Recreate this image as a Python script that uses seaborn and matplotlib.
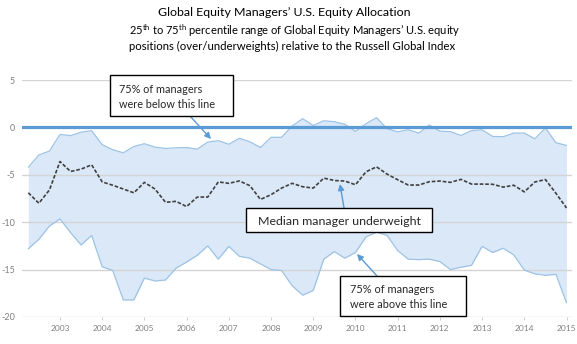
import numpy as np
import pandas as pd
import matplotlib
matplotlib.use("Agg")
import matplotlib.pyplot as plt
import seaborn as sns
from matplotlib import font_manager as fm
from matplotlib.patches import Rectangle, FancyArrowPatch

# ---------------- data (quarterly, 2002 Q2 .. 2015 Q1) ----------------
quarters = np.arange(2002.25, 2015.001, 0.25)
upper = [-4.2, -2.9, -2.5, -0.74, -0.87, -0.5, -0.35, -1.82, -2.36, -2.68,
         -2.02, -1.72, -2.08, -2.22, -2.15, -2.12, -2.3, -1.55, -1.4, -1.78,
         -1.15, -1.52, -2.12, -1.05, -1.04, 0.15, 0.92, 0.2, 0.7, 0.6,
         0.32, -0.42, 0.39, 1.02, -0.14, -0.46, -0.25, -0.6, 0.25, -0.39,
         -0.45, -0.85, -0.34, -0.25, -0.95, -0.98, -0.6, -0.6, -1.2, -0.05,
         -1.62, -1.9]
median = [-6.9, -8.0, -6.6, -3.6, -4.65, -4.4, -3.95, -5.75, -6.1, -6.5,
          -6.9, -5.8, -6.5, -7.9, -7.8, -8.35, -7.35, -7.35, -5.75, -5.9,
          -5.65, -6.15, -7.6, -7.1, -6.4, -5.9, -6.26, -6.4, -5.35, -5.6,
          -5.66, -6.05, -4.68, -4.16, -4.93, -5.52, -6.08, -6.08, -5.73, -5.66,
          -5.8, -5.48, -5.98, -5.98, -6.0, -6.3, -6.1, -6.8, -5.76, -5.5,
          -6.95, -8.5]
lower = [-12.8, -11.8, -10.4, -9.65, -11.1, -12.4, -11.4, -14.7, -15.1, -18.2,
         -18.2, -15.9, -16.2, -16.1, -14.85, -14.2, -13.5, -12.5, -13.9, -12.55,
         -13.6, -13.8, -14.4, -15.0, -15.1, -16.7, -17.7, -17.2, -13.9, -13.1,
         -13.8, -13.2, -11.55, -11.05, -11.4, -13.0, -13.9, -13.95, -13.9, -14.15,
         -15.0, -14.75, -14.55, -12.55, -13.2, -12.75, -13.45, -15.05, -15.45, -15.6,
         -15.5, -18.5]
years = list(range(2003, 2016))
year_labels = [str(y) for y in years]
y_ticks = [5, 0, -5, -10, -15, -20]
y_labels = ["5", "0", "-5", "-10", "-15", "-20"]

title = "Global Equity Managers\u2019 U.S. Equity Allocation"
sub1 = "25$^{\\mathrm{th}}$ to 75$^{\\mathrm{th}}$ percentile range of Global Equity Managers\u2019 U.S. equity"
sub2 = "positions (over/underweights) relative to the Russell Global Index"
note_top = "75% of managers\nwere below this line"
note_mid = "Median manager underweight"
note_bot = "75% of managers\nwere above this line"

# ---------------- style ----------------
sns.set_style("white")
avail = {f.name for f in fm.fontManager.ttflist}
fam = next(f for f in ["Liberation Sans Narrow", "Lato", "DejaVu Sans"] if f in avail)
plt.rcParams["font.family"] = [fam, "DejaVu Sans"]
plt.rcParams["mathtext.fontset"] = "custom"
plt.rcParams["mathtext.rm"] = fam
plt.rcParams["mathtext.it"] = fam
plt.rcParams["mathtext.bf"] = fam

W, H = 577, 344
fig = plt.figure(figsize=(W / 100, H / 100), dpi=100)
fig.patch.set_facecolor("white")

def fx(x):
    return x / W

def fy(y):
    return 1 - y / H

ax = fig.add_axes([fx(22), fy(317), (572 - 22) / W, (317 - 80) / H])

df = pd.DataFrame({"q": quarters, "upper": upper, "median": median, "lower": lower})

ax.fill_between(df["q"], df["lower"], df["upper"], color="#dae8f7", lw=0, zorder=1)
for yv in [5, -5, -10, -15, -20]:
    ax.axhline(yv, color="#d4d4d4" if yv != -20 else "#d0d0d0", lw=1.0, zorder=1.5)
sns.lineplot(data=df, x="q", y="upper", ax=ax, color="#9dc3e6", linewidth=0.9, zorder=2)
sns.lineplot(data=df, x="q", y="lower", ax=ax, color="#9dc3e6", linewidth=0.9, zorder=2)
sns.lineplot(data=df, x="q", y="median", ax=ax, color="#404040", linewidth=1.2,
             linestyle=(0, (2.2, 1.1)), zorder=3)
ax.axhline(0, color="#5b9bd5", lw=2.3, zorder=4)

ax.set_xlim(2002.10, 2015.13)
ax.set_ylim(-20, 5)
ax.set_xlabel("")
ax.set_ylabel("")
for s in ax.spines.values():
    s.set_visible(False)
ax.set_xticks(years)
ax.set_xticklabels(year_labels)
ax.set_yticks(y_ticks)
ax.set_yticklabels(y_labels)
ax.tick_params(axis="x", length=2.5, width=0.8, color="#d0d0d0", pad=3,
               labelsize=6, labelcolor="#808080", direction="out", bottom=True)
ax.tick_params(axis="y", length=0, pad=5, labelsize=6.5, labelcolor="#808080")
ax.grid(False)

# ---------------- texts ----------------
renderer = fig.canvas.get_renderer()

def fit(t, target_w):
    w = t.get_window_extent(renderer).width
    t.set_fontsize(t.get_fontsize() * target_w / w)
    return t

fit(fig.text(fx(284), fy(16), title, ha="center", va="baseline", fontsize=10, color="black"), 253)
fit(fig.text(fx(129), fy(35), sub1, ha="left", va="baseline", fontsize=9, color="black"), 331)
fit(fig.text(fx(129), fy(50), sub2, ha="left", va="baseline", fontsize=9, color="black"), 327)

def box(x0, y0, x1, y1):
    fig.add_artist(Rectangle((fx(x0), fy(y1)), (x1 - x0) / W, (y1 - y0) / H,
                             transform=fig.transFigure, facecolor="white",
                             edgecolor="black", lw=1.0, zorder=10))

def arrow(xa, ya, xb, yb):
    fig.add_artist(FancyArrowPatch((fx(xa), fy(ya)), (fx(xb), fy(yb)),
                                   transform=fig.transFigure, arrowstyle="-|>",
                                   mutation_scale=9, color="#5b9bd5", lw=1.0,
                                   shrinkA=0, shrinkB=0, zorder=9))

box(110, 75, 233, 116)
l1, l2 = note_top.split("\n")
t = fit(fig.text(fx(119), fy(93), l1, ha="left", va="baseline", fontsize=8, zorder=11), 83)
fig.text(fx(119), fy(107.5), l2, ha="left", va="baseline", fontsize=t.get_fontsize(), zorder=11)
arrow(190, 116, 211, 139)

box(246, 208, 432, 232)
fit(fig.text(fx(339), fy(225), note_mid, ha="center", va="baseline", fontsize=8, zorder=11), 164)
arrow(344, 208, 340, 184)

box(340, 276, 466, 316)
l1, l2 = note_bot.split("\n")
t = fit(fig.text(fx(350), fy(293), l1, ha="left", va="baseline", fontsize=8, zorder=11), 84)
fig.text(fx(350), fy(308), l2, ha="left", va="baseline", fontsize=t.get_fontsize(), zorder=11)
arrow(377, 276, 357, 254)

fig.savefig("out.png", dpi=100, facecolor="white")
